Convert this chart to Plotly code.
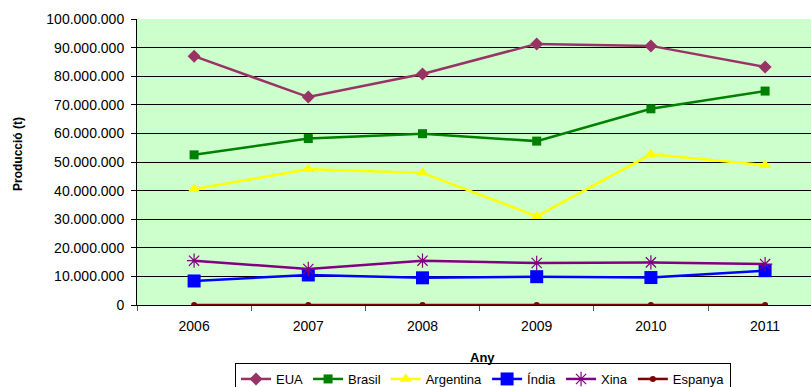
import plotly.graph_objects as go

years = ["2006", "2007", "2008", "2009", "2010", "2011"]
eua = [87.0e6, 72.7e6, 80.8e6, 91.3e6, 90.6e6, 83.2e6]
brasil = [52.5e6, 58.2e6, 59.9e6, 57.3e6, 68.6e6, 74.8e6]
argentina = [40.5e6, 47.5e6, 46.2e6, 31.0e6, 52.7e6, 48.9e6]
india = [8.4e6, 10.5e6, 9.5e6, 9.9e6, 9.6e6, 12.0e6]
xina = [15.5e6, 12.6e6, 15.5e6, 14.7e6, 14.9e6, 14.3e6]
espanya = [3e3, 3e3, 3e3, 3e3, 3e3, 3e3]
y_ticks = [0, 10e6, 20e6, 30e6, 40e6, 50e6, 60e6, 70e6, 80e6, 90e6, 100e6]

series = [
    ("EUA", eua, "#993366", "diamond", 10),
    ("Brasil", brasil, "#008000", "square", 9),
    ("Argentina", argentina, "#FFFF00", "triangle-up", 11),
    ("Índia", india, "#0000FF", "square", 13),
    ("Xina", xina, "#800080", "asterisk-open", 12),
    ("Espanya", espanya, "#800000", "circle", 6),
]

fig = go.Figure()
for name, vals, color, sym, size in series:
    marker = dict(symbol=sym, size=size, color=color)
    if sym == "asterisk-open":
        marker["line"] = dict(color=color, width=1.2)
    fig.add_trace(go.Scatter(
        x=years, y=vals, name=name, mode="lines+markers",
        line=dict(color=color, width=2.5),
        marker=marker,
    ))

W, H = 811, 387
L, R, T, B = 137, 0, 19, 82
pw, ph = W - L - R, H - T - B
font = "Arial, Liberation Sans, sans-serif"

fig.update_layout(
    width=W, height=H,
    margin=dict(l=L, r=R, t=T, b=B, pad=0, autoexpand=False),
    paper_bgcolor="white",
    plot_bgcolor="#CCFFCC",
    separators=",.",
    font=dict(family=font, size=13, color="black"),
    showlegend=True,
    legend=dict(
        orientation="h", x=(483 - L) / pw, xanchor="center",
        y=(305 - 363) / ph, yanchor="top",
        bgcolor="white", bordercolor="black", borderwidth=1,
        font=dict(family=font, size=13, color="black"),
        itemwidth=30, tracegroupgap=0,
    ),
    xaxis=dict(
        type="category", range=[-0.5, -0.5 + pw / 114.2],
        tickson="boundaries", ticks="outside", ticklen=5, tickcolor="#555555",
        showline=True, linecolor="black", linewidth=1,
        showgrid=False, zeroline=False, automargin=False,
        ticklabelstandoff=8,
        tickfont=dict(family=font, size=14, color="black"),
    ),
    yaxis=dict(
        range=[0, 100e6], tickvals=y_ticks, tickformat=",.0f",
        ticks="outside", ticklen=5, tickcolor="black",
        showline=True, linecolor="black", linewidth=1,
        showgrid=True, gridcolor="black", gridwidth=1,
        zeroline=False, automargin=False,
        ticklabelstandoff=4,
        tickfont=dict(family=font, size=14, color="black"),
    ),
    annotations=[
        dict(text="<b>Producció (t)</b>", textangle=-90, xref="paper", yref="paper",
             x=(18 - L) / pw, y=(305 - 154) / ph, xanchor="center", yanchor="middle",
             showarrow=False, font=dict(family=font, size=12, color="black")),
        dict(text="<b>Any</b>", xref="paper", yref="paper",
             x=(482 - L) / pw, y=(305 - 357) / ph, xanchor="center", yanchor="middle",
             showarrow=False, font=dict(family=font, size=13, color="black")),
    ],
)

fig.write_html("out.html", config={"displayModeBar": False},
               post_script="document.body.style.margin='0';")
